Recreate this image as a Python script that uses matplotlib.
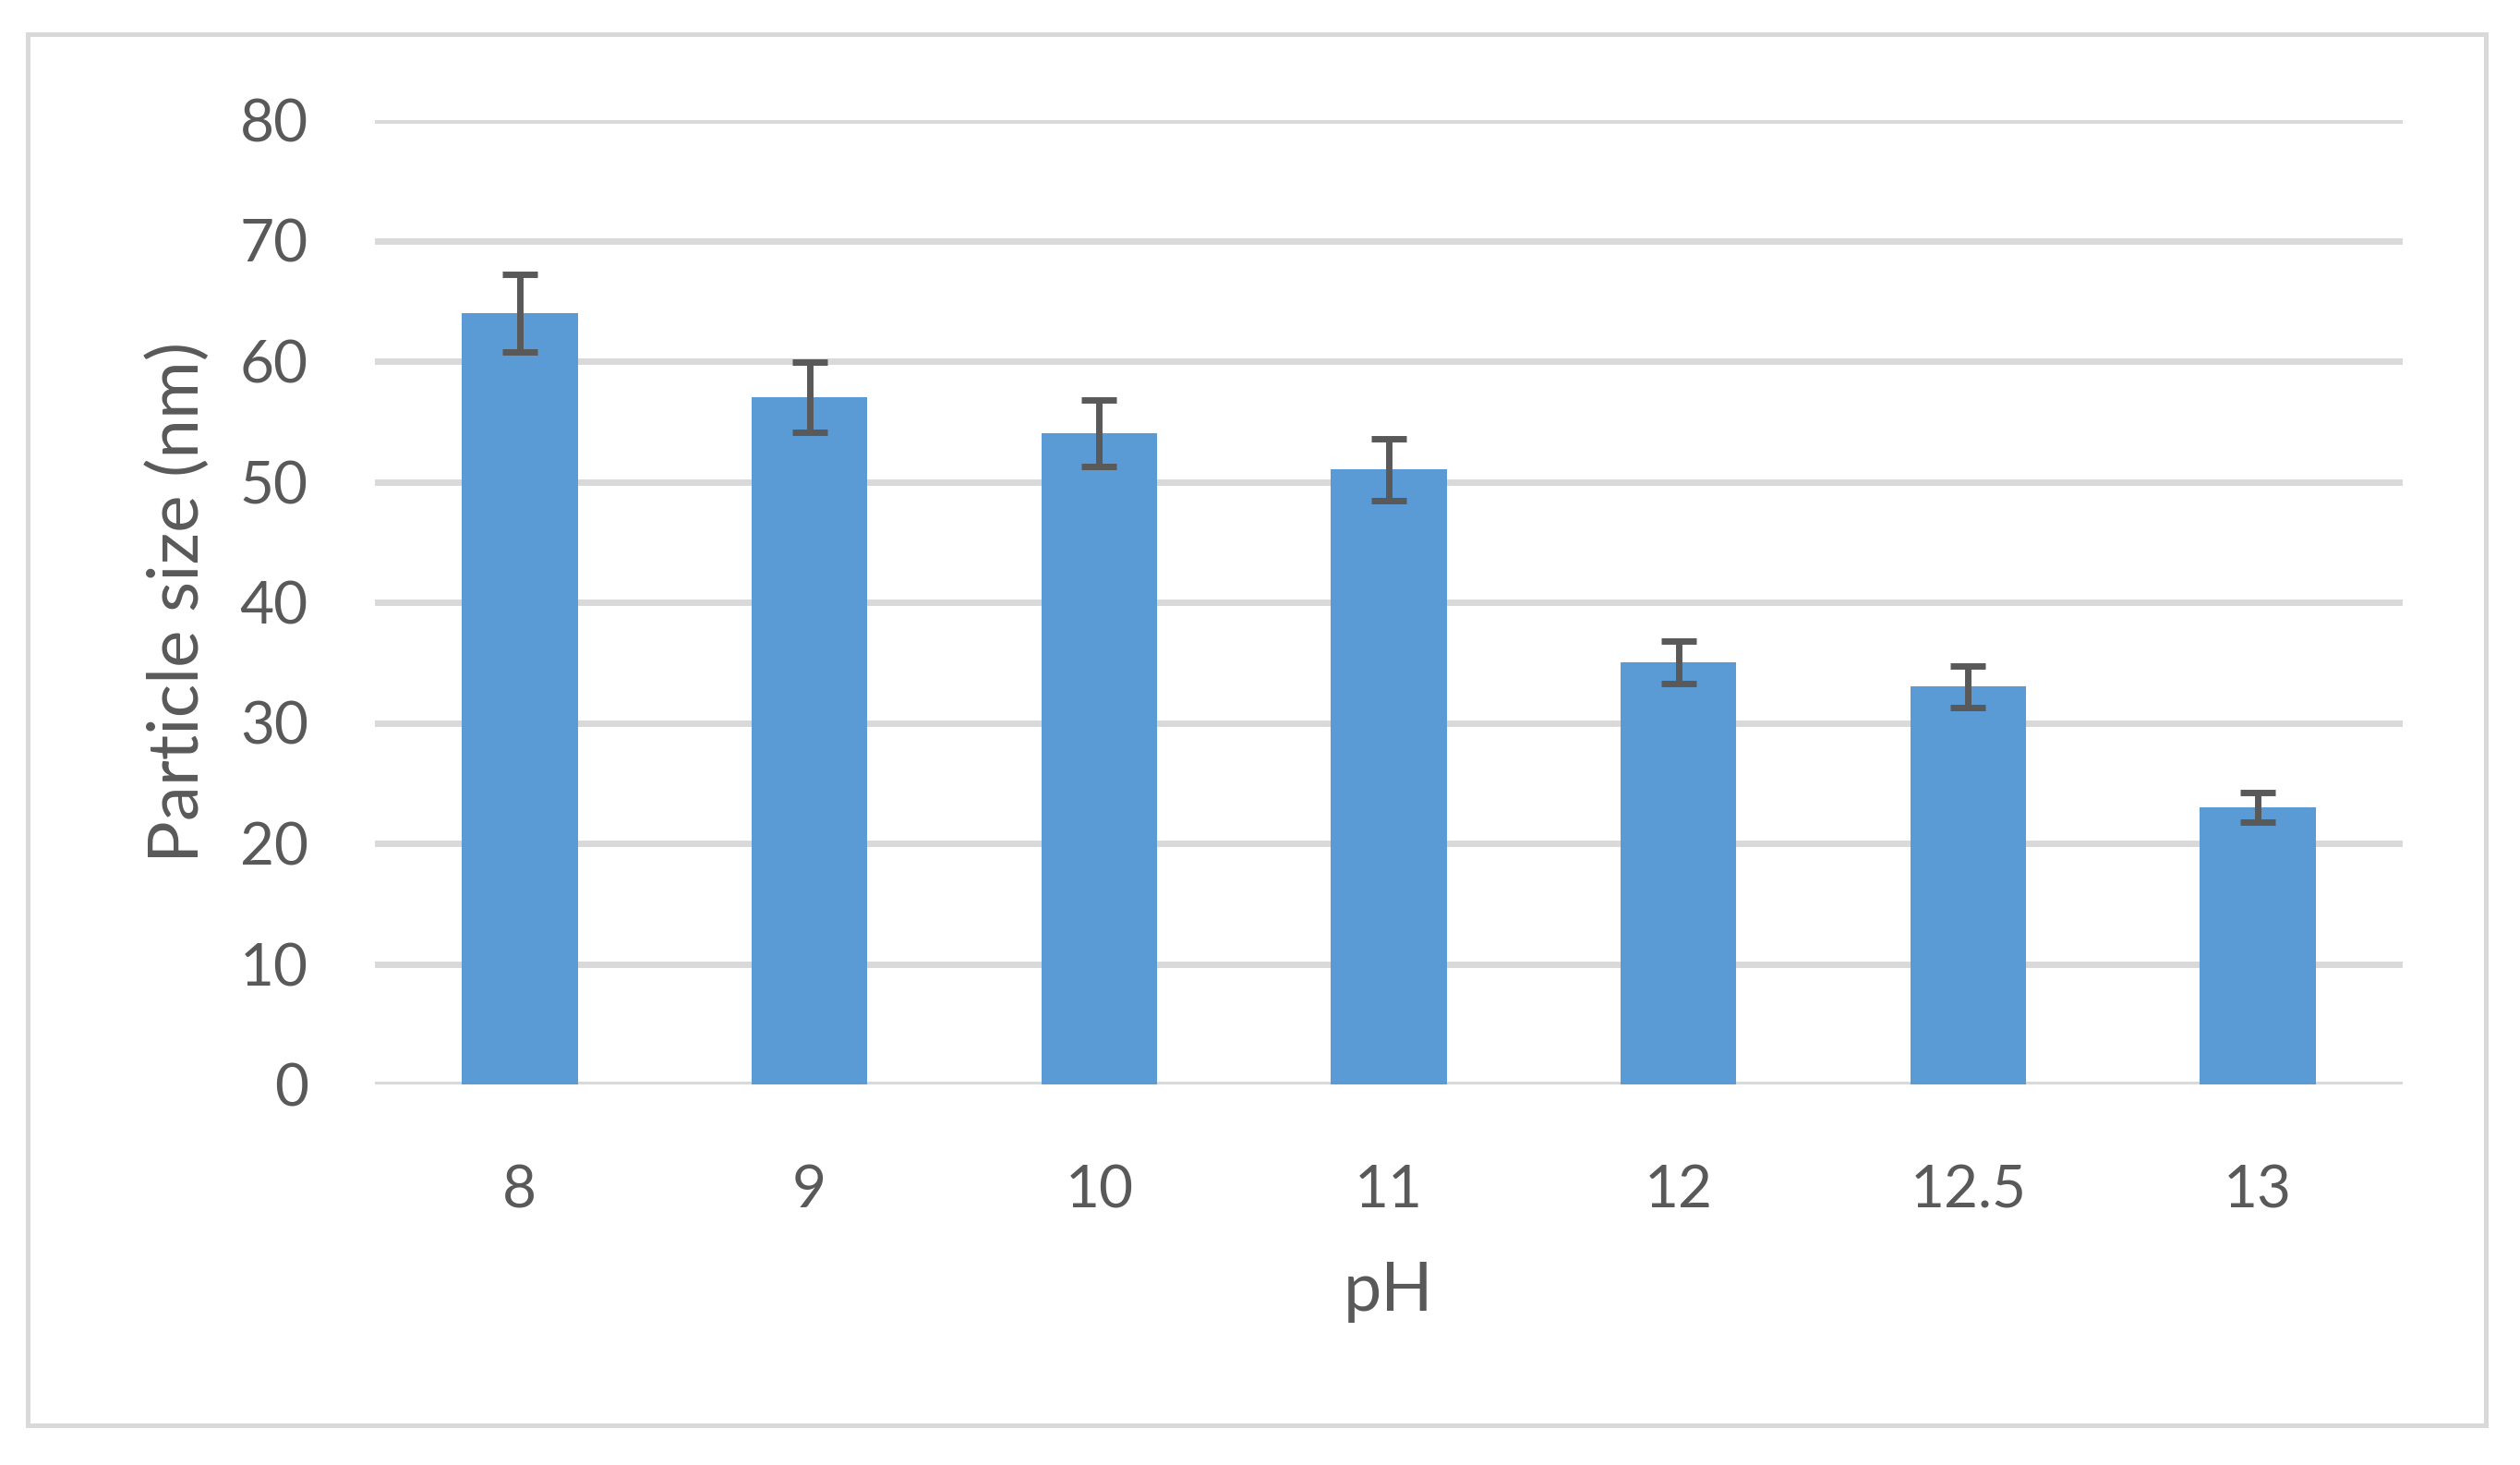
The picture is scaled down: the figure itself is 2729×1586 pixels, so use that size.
import matplotlib
matplotlib.use("Agg")
import matplotlib.pyplot as plt
from matplotlib.patches import Rectangle
import numpy as np

categories = ["8", "9", "10", "11", "12", "12.5", "13"]
sizes = [64, 57, 54, 51, 35, 33, 23]
errors = [3.2, 2.9, 2.75, 2.55, 1.75, 1.7, 1.2]
yticks = [0, 10, 20, 30, 40, 50, 60, 70, 80]

TEXT = "#595959"
GRID = "#D9D9D9"
BAR = "#5B9BD5"
plt.rcParams['font.family'] = ['Lato', 'DejaVu Sans']

W, H = 2729, 1586
fig = plt.figure(figsize=(W / 100, H / 100), dpi=100)

# outer chart border
fig.patches.append(Rectangle((30 / W, 1 - 1543 / H), (2692 - 30) / W, (1543 - 37) / H,
                             transform=fig.transFigure, fill=False,
                             edgecolor=GRID, linewidth=3.6))

left, right = 406 / W, 2602 / W
bottom, top = 1 - 1174 / H, 1 - 130 / H
ax = fig.add_axes([left, bottom, right - left, top - bottom])

x = np.arange(len(categories))
ax.bar(x, sizes, width=0.4, color=BAR, zorder=3)
ax.errorbar(x, sizes, yerr=errors, fmt="none", ecolor=TEXT, elinewidth=5,
            capsize=14, capthick=5, zorder=4)

ax.set_xlim(-0.5, len(categories) - 0.5)
ax.set_ylim(0, 80)
ax.set_yticks(yticks)
ax.set_xticks(x)
ax.set_xticklabels(categories)
ax.yaxis.grid(True, color=GRID, linewidth=5, zorder=0)
ax.set_axisbelow(True)
for s in ax.spines.values():
    s.set_visible(False)
ax.tick_params(axis="both", length=0, labelsize=46, colors=TEXT)
ax.tick_params(axis="y", pad=52)
ax.tick_params(axis="x", pad=62)

ax.set_xlabel("pH", fontsize=53, color=TEXT)
ax.xaxis.set_label_coords(0.5, -0.2146)
ax.xaxis.label.set_va("center")
ax.set_ylabel("Particle size (nm)", fontsize=55, color=TEXT)
ax.yaxis.set_label_coords(-0.097, 0.5)
ax.yaxis.label.set_va("center")

fig.savefig("out.png", dpi=100, facecolor="white")
